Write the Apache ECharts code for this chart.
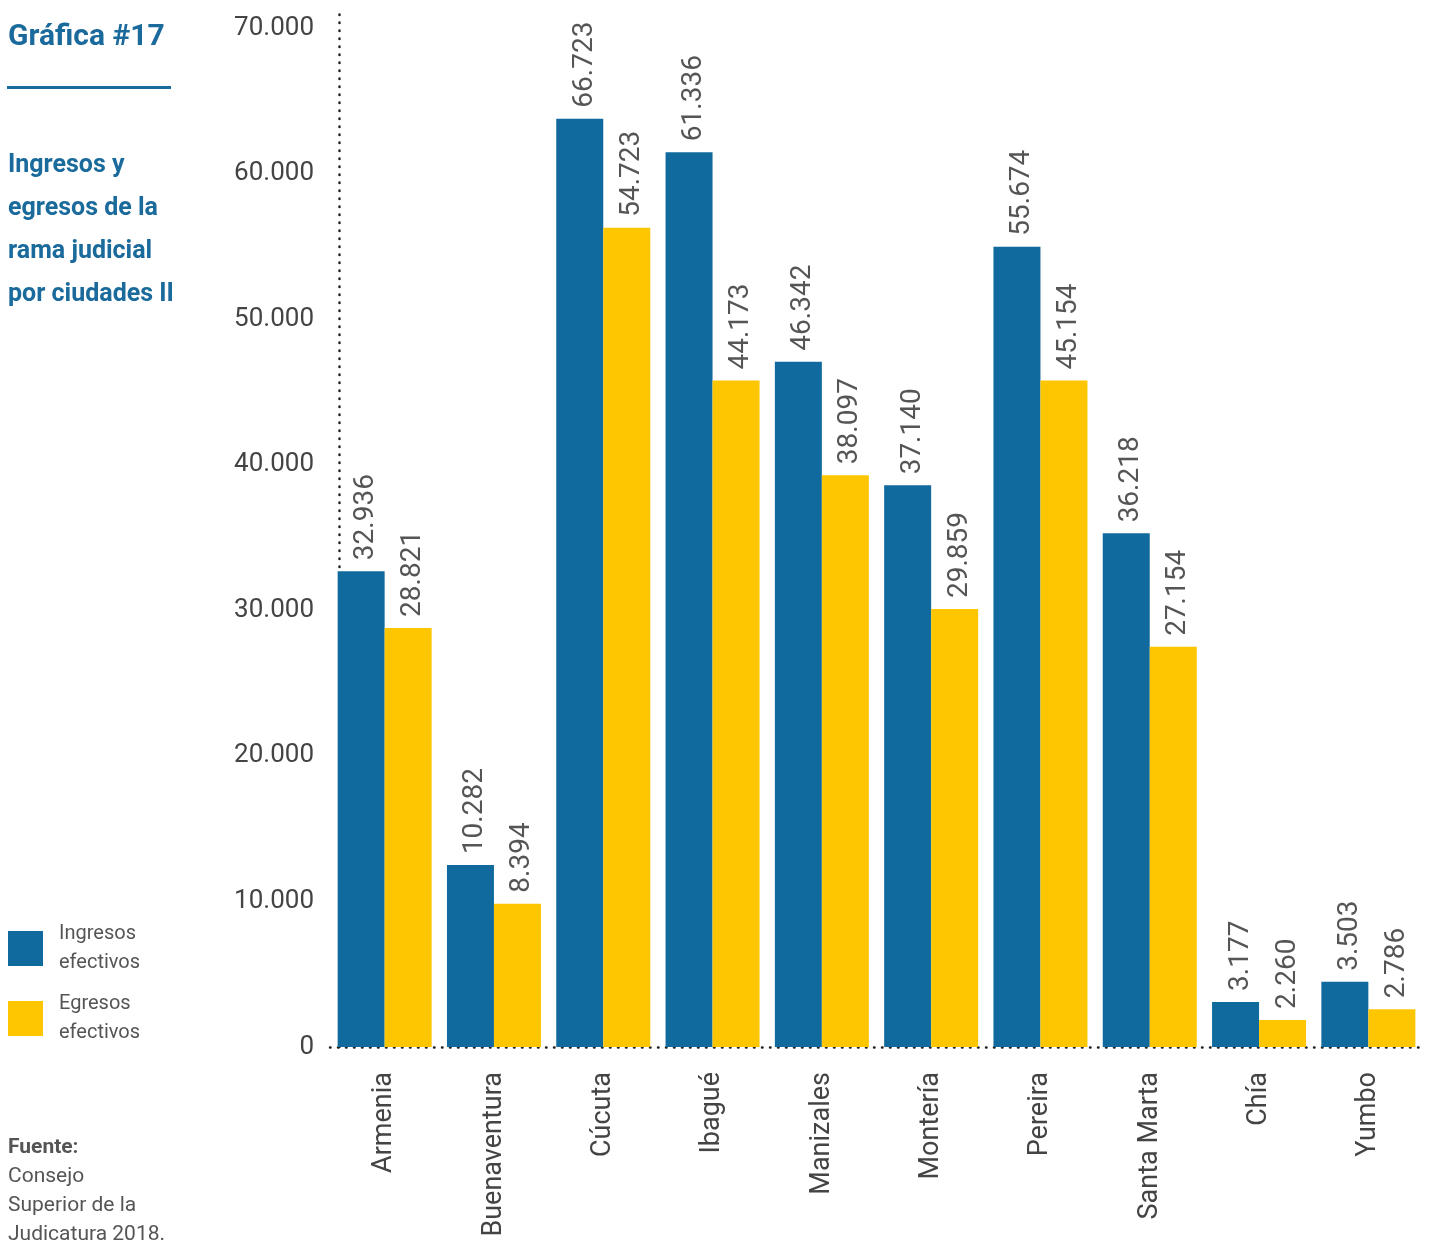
<!DOCTYPE html>
<html>
<head>
<meta charset="utf-8">
<script src="https://cdn.jsdelivr.net/npm/echarts@6/dist/echarts.min.js"></script>
<style>
html, body { margin: 0; padding: 0; background: #fff; }
#main { width: 1429px; height: 1241px; }
</style>
</head>
<body>
<div id="main"></div>
<script>
var ciudades = ['Armenia', 'Buenaventura', 'Cúcuta', 'Ibagué', 'Manizales', 'Montería', 'Pereira', 'Santa Marta', 'Chía', 'Yumbo'];
// alturas de las barras
var ingresos = [32700, 12500, 63800, 61500, 47100, 38600, 55000, 35300, 3100, 4480];
var egresos = [28800, 9850, 56300, 45800, 39300, 30100, 45800, 27500, 1860, 2600];
// etiquetas impresas sobre las barras
var ingresosTxt = ['32.936', '10.282', '66.723', '61.336', '46.342', '37.140', '55.674', '36.218', '3.177', '3.503'];
var egresosTxt = ['28.821', '8.394', '54.723', '44.173', '38.097', '29.859', '45.154', '27.154', '2.260', '2.786'];
var series = ['Ingresos efectivos', 'Egresos efectivos'];

var azul = '#116a9e', amarillo = '#fec600';
var font = 'Roboto, "Noto Sans", sans-serif';
var puntos = { color: '#222', width: 2.5, type: [0.5, 7.5], cap: 'round' };

var chart = echarts.init(document.getElementById('main'));

function etiqueta(txts) {
    return {
        show: true,
        position: 'top',
        rotate: 90,
        align: 'left',
        verticalAlign: 'middle',
        distance: 12,
        offset: [-1, 5],
        color: '#555',
        fontSize: 28,
        fontFamily: font,
        formatter: function (p) { return txts[p.dataIndex]; }
    };
}

var option = {
    backgroundColor: '#fff',
    animation: false,
    grid: { left: 330, right: 6, top: 11, bottom: 194 },
    legend: {
        orient: 'vertical',
        left: 8,
        top: 917,
        padding: 0,
        itemWidth: 35,
        itemHeight: 35,
        itemGap: 7,
        icon: 'rect',
        data: series,
        formatter: function (n) { return n.replace(' ', '\n'); },
        textStyle: { color: '#555', fontSize: 20, lineHeight: 29, fontFamily: font, padding: [5, 0, 0, 11] }
    },
    graphic: [
        { type: 'text', left: 8, top: 22, style: { text: 'Gráfica #17', fill: '#1a6a9c', font: 'bold 30px ' + font } },
        { type: 'rect', left: 7, top: 86, shape: { width: 164, height: 3 }, style: { fill: '#1a6a9c' } },
        { type: 'text', left: 8, top: 144, style: { text: 'Ingresos y\negresos de la\nrama judicial\npor ciudades II', fill: '#1a6a9c', font: 'bold 25px ' + font, lineHeight: 43 } },
        { type: 'text', left: 8, top: 1133, style: {
            text: '{b|Fuente:}\nConsejo\nSuperior de la\nJudicatura 2018.',
            fill: '#555', font: '21px ' + font, lineHeight: 29,
            rich: { b: { fontWeight: 'bold', fontSize: 21, fontFamily: font, fill: '#555', lineHeight: 29 } }
        } }
    ],
    xAxis: {
        type: 'category',
        data: ciudades,
        axisLine: { show: true, lineStyle: puntos },
        axisTick: { show: false },
        axisLabel: { rotate: 90, margin: 25, color: '#444', fontSize: 27, fontFamily: font }
    },
    yAxis: {
        type: 'value',
        min: 0,
        max: 71200,
        interval: 10000,
        offset: -9,
        splitLine: { show: false },
        axisTick: { show: false },
        axisLine: { show: true, lineStyle: puntos },
        axisLabel: {
            showMaxLabel: false,
            margin: 25,
            color: '#444',
            fontSize: 26,
            fontFamily: font,
            formatter: function (v) { return v === 0 ? '0' : String(v).replace(/\B(?=(\d{3})+(?!\d))/g, '.'); }
        }
    },
    series: [
        { name: series[0], type: 'bar', data: ingresos, barWidth: 47, barGap: '0%', itemStyle: { color: azul }, label: etiqueta(ingresosTxt) },
        { name: series[1], type: 'bar', data: egresos, barWidth: 47, itemStyle: { color: amarillo }, label: etiqueta(egresosTxt) }
    ]
};

chart.setOption(option);
</script>
</body>
</html>
